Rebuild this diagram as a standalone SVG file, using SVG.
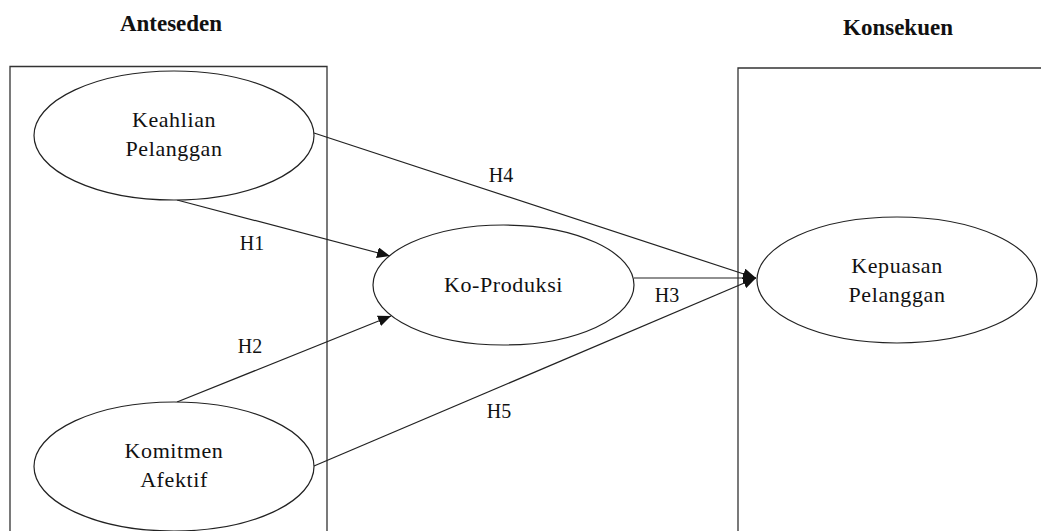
<svg xmlns="http://www.w3.org/2000/svg" width="1041" height="531" viewBox="0 0 1041 531">
<style>
.box{fill:none;stroke:#333;stroke-width:1.3}
.node ellipse{fill:#fff;stroke:#222;stroke-width:1.2}
.t{font-family:"Liberation Serif","Times New Roman",serif;font-size:22px;fill:#111;text-anchor:middle;letter-spacing:0.6px}
.h{font-family:"Liberation Serif","Times New Roman",serif;font-size:23px;font-weight:bold;fill:#111;text-anchor:middle}
.lbl{font-family:"Liberation Serif","Times New Roman",serif;font-size:20px;fill:#111;text-anchor:middle}
.edge{fill:none;stroke:#222;stroke-width:1.2}
</style>
<defs>
<marker id="arr" markerWidth="13" markerHeight="11" refX="13" refY="5.5" orient="auto" markerUnits="userSpaceOnUse">
<path d="M0,0 L13,5.5 L0,11 Z" fill="#111"/>
</marker>
</defs>
<rect width="1041" height="531" fill="#fff"/>
<text class="h" x="171" y="31">Anteseden</text>
<text class="h" x="898" y="35">Konsekuen</text>
<path class="box" d="M10,540 L10,66.5 L327,66.5 L327,540"/>
<path class="box" d="M738,540 L738,68 L1050,68"/>
<g id="connectors">
<line class="edge" x1="177" y1="200" x2="390" y2="256" marker-end="url(#arr)"/>
<line class="edge" x1="177" y1="402" x2="391" y2="316" marker-end="url(#arr)"/>
<line class="edge" x1="314" y1="133" x2="756" y2="278" marker-end="url(#arr)"/>
<line class="edge" x1="634" y1="278" x2="756" y2="278" marker-end="url(#arr)"/>
<line class="edge" x1="314" y1="466" x2="756" y2="278" marker-end="url(#arr)"/>
<text class="lbl" x="252" y="250">H1</text>
<text class="lbl" x="250" y="353">H2</text>
<text class="lbl" x="667" y="302">H3</text>
<text class="lbl" x="501" y="182">H4</text>
<text class="lbl" x="499" y="418">H5</text>
</g>
<g id="keahlian" class="node">
<ellipse cx="174" cy="135.5" rx="140" ry="64.5"/>
<text class="t" x="174" y="127">Keahlian</text>
<text class="t" x="174" y="156">Pelanggan</text>
</g>
<g id="komitmen" class="node">
<ellipse cx="174" cy="466.5" rx="140" ry="64.5"/>
<text class="t" x="174" y="458">Komitmen</text>
<text class="t" x="174" y="487">Afektif</text>
</g>
<g id="koproduksi" class="node">
<ellipse cx="503.5" cy="285" rx="130.5" ry="60"/>
<text class="t" x="503.5" y="292">Ko-Produksi</text>
</g>
<g id="kepuasan" class="node">
<ellipse cx="897" cy="280" rx="140" ry="63"/>
<text class="t" x="897" y="273">Kepuasan</text>
<text class="t" x="897" y="302">Pelanggan</text>
</g>
</svg>
